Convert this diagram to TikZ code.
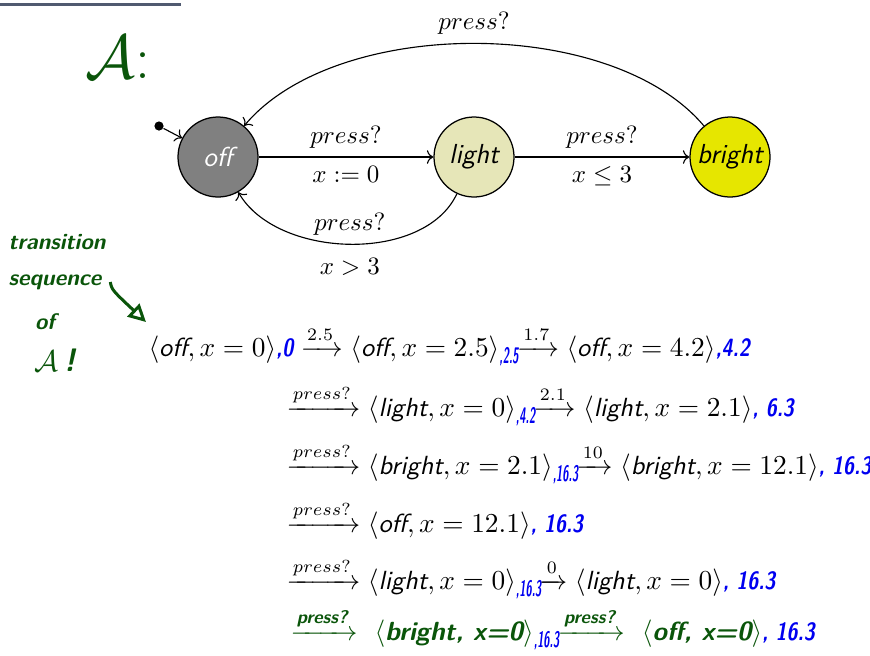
\documentclass[tikz,border=0pt]{standalone}
\usepackage{amsmath,amssymb,mathtools,graphicx}
\usetikzlibrary{positioning,arrows.meta,calc}
\definecolor{offgray}{RGB}{128,128,128}
\definecolor{lightfill}{RGB}{230,230,184}
\definecolor{brightfill}{RGB}{230,230,0}
\definecolor{hgreen}{RGB}{10,85,10}
\definecolor{hblue}{RGB}{0,0,240}
\definecolor{barcol}{RGB}{80,90,112}
\newcommand{\st}[1]{\textsf{\itshape #1}}
\newcommand{\hw}{\sffamily\bfseries\itshape}
% blue time stamps: at the end of a line, and squeezed under an arrow
\newcommand{\tm}[1]{\text{\color{hblue}\hw\fontsize{10}{11}\selectfont\scalebox{0.8}[1]{#1}}}
\newcommand{\tms}[1]{\text{\color{hblue}\hw\fontsize{9}{10}\selectfont\raisebox{-3pt}{\scalebox{0.5}[1]{#1}}}\mkern-6mu}
\tikzset{
  state/.style={circle,draw=black,line width=0.5pt,minimum size=32pt,inner sep=0pt,
    font=\fontsize{11}{13}\selectfont\sffamily\itshape},
  trans/.style={->,line width=0.45pt},
  elbl/.style={font=\fontsize{10}{12}\selectfont},
  tline/.style={anchor=base west,inner sep=0pt,font=\fontsize{10.5}{13}\selectfont},
  hand/.style={text=hgreen,font=\fontsize{9}{10}\selectfont\hw},
}

\begin{document}
\begin{tikzpicture}[x=0.4pt,y=0.4pt]
  \useasboundingbox (0,0) rectangle (870,-655);
  \draw[barcol,line width=1.2pt] (0,-4)--(181,-4);
  % the automaton
  \node[hand,font=\fontsize{24}{26}\selectfont] (aut) at (118,-57) {$\mathcal{A}$:};
  \node[state,fill=offgray,text=white] (off) at (218,-157) {off};
  \node[state,fill=lightfill] (light) at (474,-157) {light};
  \node[state,fill=brightfill] (bright) at (730,-157) {bright};
  \node[circle,fill=black,inner sep=1.3pt] (init) at (159,-126) {};
  \draw[trans] (init)--(off);
  \draw[trans] (off)--(light)
    node[elbl,midway,above] {$press?$} node[elbl,midway,below] {$x := 0$};
  \draw[trans] (light)--(bright)
    node[elbl,midway,above] {$press?$} node[elbl,midway,below] {$x \leq 3$};
  \draw[trans] (light) to[out=-115,in=-60,looseness=0.9]
    node[elbl,above] {$press?$} node[elbl,below=2pt] {$x > 3$} (off);
  \draw[trans] (bright) to[out=130,in=50,looseness=0.8]
    node[elbl,above] {$press?$} (off);
  % transition sequence
  \node[hand] (trn) at (57,-242) {transition};
  \node[hand] (seq) at (55,-282) {sequence};
  \node[hand] (of) at (45,-322) {of};
  \node[hand,font=\fontsize{13}{14}\selectfont\hw] (aex) at (55,-360) {$\mathcal{A}$\,!};
  \coordinate (seqend) at (146,-322);
  \draw[hgreen,line width=1.2pt,-{Triangle[open,length=7pt,width=7pt]}]
    (seq.east) .. controls (112,-290) .. (seqend);
  \node[tline] (tr1) at (148,-356)
    {$\langle\st{off}, x = 0\rangle\tm{,0}\xrightarrow{2.5}\langle\st{off}, x = 2.5\rangle\tms{,2.5}\xrightarrow{1.7}\langle\st{off}, x = 4.2\rangle\tm{,4.2}$};
  \node[tline] (tr2) at (286,-416)
    {$\xrightarrow{press?}\langle\st{light}, x = 0\rangle\tms{,4.2}\xrightarrow{2.1}\langle\st{light}, x = 2.1\rangle\tm{, 6.3}$};
  \node[tline] (tr3) at (286,-474)
    {$\xrightarrow{press?}\langle\st{bright}, x = 2.1\rangle\tms{,16.3}\xrightarrow{10}\langle\st{bright}, x = 12.1\rangle\tm{, 16.3}$};
  \node[tline] (tr4) at (286,-532)
    {$\xrightarrow{press?}\langle\st{off}, x = 12.1\rangle\tm{, 16.3}$};
  \node[tline] (tr5) at (286,-589)
    {$\xrightarrow{press?}\langle\st{light}, x = 0\rangle\tms{,16.3}\xrightarrow{0}\langle\st{light}, x = 0\rangle\tm{, 16.3}$};
  \node[tline,text=hgreen] (tr6) at (290,-640)
    {$\xrightarrow{\text{\hw press?}}\text{\hw\ $\langle$bright, x=0$\rangle$}\tms{,16.3}\xrightarrow{\text{\hw press?}}\text{\hw\ $\langle$off, x=0$\rangle$}\tm{, 16.3}$};
\end{tikzpicture}
\end{document}
